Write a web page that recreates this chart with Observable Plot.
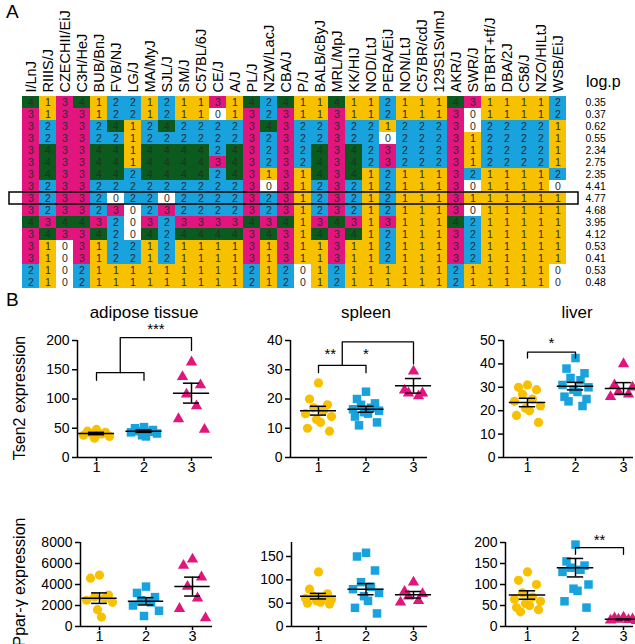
<!DOCTYPE html>
<html><head><meta charset="utf-8">
<script src="https://cdn.jsdelivr.net/npm/d3@7"></script>
<script src="https://cdn.jsdelivr.net/npm/@observablehq/plot@0.6"></script>
<style>
html,body{margin:0;padding:0;background:#fff;}
#root{position:relative;width:635px;height:644px;overflow:hidden;font-family:"Liberation Sans",Arial,sans-serif;}
.lbl{position:absolute;white-space:nowrap;color:#000;line-height:1;}
</style></head><body><div id="root"></div>
<script>
// ---------- DATA (panel A) ----------
const strains = ["I/LnJ","RIIIS/J","CZECHII/EiJ","C3H/HeJ","BUB/BnJ","FVB/NJ","LG/J","MA/MyJ","SJL/J","SM/J","C57BL/6J","CE/J","A/J","PL/J","NZW/LacJ","CBA/J","P/J","BALB/cByJ","MRL/MpJ","KK/HIJ","NOD/LtJ","PERA/EiJ","NON/LtJ","C57BR/cdJ","129S1SvImJ","AKR/J","SWR/J","BTBRT+tf/J","DBA/2J","C58/J","NZO/HILtJ","WSB/EiJ"];
const logp = [0.35,0.37,0.62,0.55,2.34,2.75,2.35,4.41,4.77,4.68,3.95,4.12,0.53,0.41,0.53,0.48];
// one string per row, one digit per strain (0 = white, 1..4 = haplotype)
const haplotypes = [
  "4" + "1341221211" + "31424114112" + "1114311112",
  "3" + "1331221211" + "01323113112" + "1113011112",
  "3" + "2332412422" + "22343223221" + "2223022221",
  "3" + "2332212222" + "22323223220" + "2223122221",
  "3" + "4334414444" + "24323243423" + "2223122221",
  "3" + "4334414444" + "34323243423" + "2223122221",
  "3" + "4334424444" + "24313143412" + "1113211112",
  "3" + "2332222222" + "22303123212" + "1113011110",
  "3" + "2332022022" + "22323123212" + "1113111111",
  "3" + "2332302322" + "22323123212" + "1113011111",
  "4" + "3443203233" + "33434134313" + "1114211111",
  "3" + "4334204244" + "44343143412" + "1113211111",
  "3" + "1031221211" + "11313113112" + "1113211111",
  "3" + "1031221211" + "11313113112" + "1113211111",
  "2" + "1021111111" + "11212012111" + "1112111110",
  "2" + "1021111111" + "11212012111" + "1112111110"
];
const highlightRow = 8;

// ---------- DATA (panel B) ----------
const groups = ["1","2","3"];
const adiposeTsen2 = [[48,45,43,41,40,38,36,33],[52,50,47,45,44,43,41,38,36],[163,138,124,108,88,66,48]];
const adiposeTsen2Mean = [41,45,110], adiposeTsen2Sem = [2,2,17];
const spleenTsen2 = [[25.5,20,18,17,16,15,14,13,12,10,9],[22.5,20,18.5,18,17,16.5,16,15.5,15,14,12,11],[29.5,23,22,22,21]];
const spleenTsen2Mean = [16,16.5,24.5], spleenTsen2Sem = [1.5,1,2.5];
const liverTsen2 = [[31,30,29,27,25,24,22,21,20,18,15],[42.5,38,36,34,33,31,30,29,28,26,25,24,22],[40,31,30,28,27,26]];
const liverTsen2Mean = [23.5,30.5,29.5], liverTsen2Sem = [1.8,1.6,2.5];
const adiposePpar = [[4900,4600,3000,2800,2700,2500,2300,1600,900],[3800,3200,2800,2500,2300,2000,1500,1000],[6400,5800,4700,3800,2700,1700,800]];
const adiposeParMean = [2700,2400,3800], adiposeParSem = [500,350,900];
const spleenPpar = [[117,80,70,65,62,60,58,55,52,50,48],[158,150,120,95,85,80,72,65,55,40,28],[95,75,70,65,55,52]];
const spleenParMean = [65,80,68], spleenParSem = [6,12,7];
const liverPpar = [[130,110,100,80,70,65,60,55,50,45,40,35],[195,155,145,140,135,130,100,90,85,60,45],[22,20,18,17,16,15,14]];
const liverParMean = [75,140,17], liverParSem = [10,22,1];

const YEL = "#f7c100", BLUE = "#18a2de", MAG = "#e2157e", GREEN = "#0b5a1e";
const FONT = '"Liberation Sans", Arial, sans-serif';
const root = document.getElementById("root");

function place(el, left, top) {
  el.style.position = "absolute";
  el.style.left = left + "px";
  el.style.top = top + "px";
  el.style.maxWidth = "none";
  root.appendChild(el);
}
function label(text, left, top, size, extra) {
  const d = document.createElement("div");
  d.className = "lbl";
  d.textContent = text;
  d.style.left = left + "px";
  d.style.top = top + "px";
  d.style.fontSize = size + "px";
  if (extra) Object.assign(d.style, extra);
  root.appendChild(d);
}

// ---------- PANEL A heatmap ----------
const cells = haplotypes.flatMap((row, r) => strains.map((s, c) => ({strain: s, row: r, v: +row[c]})));
const heat = Plot.plot({
  width: 635, height: 289,
  marginLeft: 9, marginRight: 57, marginTop: 96, marginBottom: 1,
  style: {fontFamily: FONT, background: "transparent", overflow: "visible"},
  x: {domain: strains, padding: 0},
  y: {domain: d3.range(16), padding: 0},
  color: {type: "ordinal", domain: [0,1,2,3,4], range: ["#ffffff", YEL, BLUE, MAG, GREEN]},
  marks: [
    Plot.cell(cells, {x: "strain", y: "row", fill: "v"}),
    Plot.text(cells, {x: "strain", y: "row", text: d => String(d.v), fill: "#2a2a2a", fontSize: 10.5}),
    Plot.cell([highlightRow], {y: d => d, fill: "none", stroke: "#000", strokeWidth: 1.5}),
    Plot.axisX({anchor: "top", tickRotate: -90, tickSize: 0, tickPadding: 4, fontSize: 14.5, label: null, fill: "#000"}),
    Plot.axisY({anchor: "right", tickSize: 0, tickPadding: 7, fontSize: 10.4, label: null, tickFormat: i => logp[i].toFixed(2), fill: "#000"})
  ]
});
place(heat, 0, 0);
label("A", 6, 2, 19);
label("log.p", 586, 74, 16);

// ---------- PANEL B scatter plots ----------
const jit = [0, -9, 9, -5, 5, -13, 13, -2, 2, -11, 11, -7, 7];
const symbols = ["circle", "square", "triangle"];
const colors = [YEL, BLUE, MAG];
const radii = [4.6, 4.8, 4.2];

function panel(s) {
  const ppu = (s.x3 - s.x1) / 2;
  const xmin = 1 - (s.x1 - s.ax) / ppu, xmax = 3 + (s.right - s.x3) / ppu;
  const ML = 62, MR = 8, MT = 46, MB = 24;
  const W = ML + (s.right - s.ax) + MR, H = MT + (s.bottom - s.top) + MB;
  const pts = s.data.flatMap((vals, gi) => vals.map((v, i) => ({g: gi, v, x: gi + 1 + jit[i % jit.length] / ppu})));
  const stats = s.mean.map((m, gi) => ({x: gi + 1, m, se: s.sem[gi]}));
  const marks = [
    Plot.ruleX([xmin], {stroke: "#000", strokeWidth: 1.5}),
    Plot.ruleY([0], {stroke: "#000", strokeWidth: 1.5}),
    Plot.axisY({ticks: s.ticks, tickSize: 5, tickPadding: 3, fontSize: 14, label: null, tickFormat: d => String(d), strokeWidth: 1.5, fill: "#000"}),
    Plot.axisX({ticks: [1,2,3], tickSize: 4, tickPadding: 0, fontSize: 14.5, label: null, tickFormat: d => groups[d-1], strokeWidth: 1.5, fill: "#000"})
  ];
  for (let g = 0; g < 3; g++) {
    marks.push(Plot.dot(pts.filter(d => d.g === g), {x: "x", y: "v", r: radii[g], symbol: symbols[g], fill: colors[g], stroke: "none"}));
  }
  marks.push(
    Plot.ruleY(stats, {y: "m", x1: d => d.x - 0.38, x2: d => d.x + 0.38, stroke: "#000", strokeWidth: 1.5}),
    Plot.ruleX(stats, {x: "x", y1: d => d.m - d.se, y2: d => d.m + d.se, stroke: "#000", strokeWidth: 1.5}),
    Plot.ruleY(stats, {y: d => d.m + d.se, x1: d => d.x - 0.17, x2: d => d.x + 0.17, stroke: "#000", strokeWidth: 1.5}),
    Plot.ruleY(stats, {y: d => d.m - d.se, x1: d => d.x - 0.17, x2: d => d.x + 0.17, stroke: "#000", strokeWidth: 1.5})
  );
  for (const b of s.brackets) {
    marks.push(Plot.line(b.path, {x: d => d[0], y: d => d[1], stroke: "#000", strokeWidth: 1.3}));
  }
  marks.push(Plot.text(s.stars, {x: d => d[0], y: d => d[1], text: d => d[2], fontSize: 15, fill: "#000", dy: -2, lineAnchor: "bottom"}));
  const p = Plot.plot({
    width: W, height: H, marginLeft: ML, marginRight: MR, marginTop: MT, marginBottom: MB,
    style: {fontFamily: FONT, background: "transparent", overflow: "visible"},
    x: {domain: [xmin, xmax]},
    y: {domain: [0, s.ymax]},
    marks
  });
  place(p, s.ax - ML, s.top - MT);
}

panel({ax: 77, right: 212, x1: 96, x3: 191, top: 340, bottom: 457, ymax: 200, ticks: [0,50,100,150,200],
  data: adiposeTsen2, mean: adiposeTsen2Mean, sem: adiposeTsen2Sem,
  brackets: [{path: [[1,132],[1,145],[2,145],[2,132]]}, {path: [[1.5,145],[1.5,205],[3,205],[3,183]]}],
  stars: [[2.25, 207, "***"]]});
panel({ax: 290, right: 427, x1: 318, x3: 413, top: 340, bottom: 457, ymax: 40, ticks: [0,10,20,30,40],
  data: spleenTsen2, mean: spleenTsen2Mean, sem: spleenTsen2Sem,
  brackets: [{path: [[1,29],[1,31.5],[2,31.5],[2,29]]}, {path: [[1.5,31.5],[1.5,39.5],[3,39.5],[3,32]]}],
  stars: [[1.25, 33, "**"], [2, 33, "*"]]});
panel({ax: 503, right: 633, x1: 527, x3: 623, top: 340, bottom: 457, ymax: 50, ticks: [0,10,20,30,40,50],
  data: liverTsen2, mean: liverTsen2Mean, sem: liverTsen2Sem,
  brackets: [{path: [[1,42.5],[1,45],[2,45],[2,42.5]]}],
  stars: [[1.5, 46, "*"]]});
panel({ax: 80, right: 212, x1: 99, x3: 192, top: 542, bottom: 626, ymax: 8000, ticks: [0,2000,4000,6000,8000],
  data: adiposePpar, mean: adiposeParMean, sem: adiposeParSem, brackets: [], stars: []});
panel({ax: 291, right: 427, x1: 318, x3: 413, top: 542, bottom: 626, ymax: 180, ticks: [0,50,100,150],
  data: spleenPpar, mean: spleenParMean, sem: spleenParSem, brackets: [], stars: []});
panel({ax: 505, right: 633, x1: 527, x3: 623, top: 542, bottom: 626, ymax: 200, ticks: [0,50,100,150,200],
  data: liverPpar, mean: liverParMean, sem: liverParSem,
  brackets: [{path: [[2,172],[2,188],[3,188],[3,172]]}],
  stars: [[2.5, 190, "**"]]});

label("B", 6, 290, 19);
label("adipose tissue", 144, 304, 17, {transform: "translateX(-50%)"});
label("spleen", 366, 304, 17, {transform: "translateX(-50%)"});
label("liver", 577, 304, 17, {transform: "translateX(-50%)"});
label("Tsen2 expression", 20, 398, 16, {transform: "translate(-50%,-50%) rotate(-90deg)"});
label("Ppar-\u03b3 expression", 20, 582, 16, {transform: "translate(-50%,-50%) rotate(-90deg)"});
</script></body></html>
